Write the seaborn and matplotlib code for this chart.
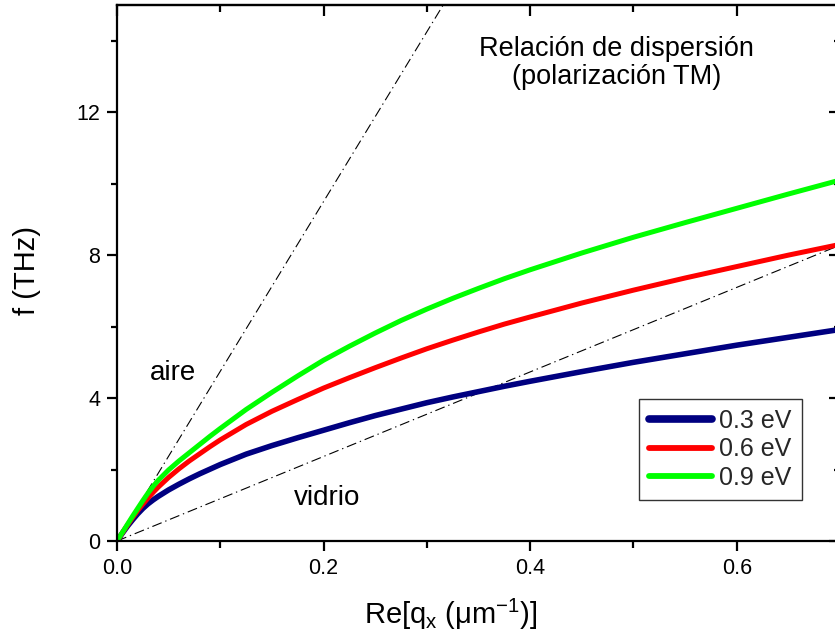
import matplotlib
matplotlib.use("Agg")
import matplotlib.pyplot as plt
import seaborn as sns
import pandas as pd
from matplotlib.ticker import MultipleLocator

# ---- data ----
q = [0.0, 0.005, 0.01, 0.015, 0.02, 0.025, 0.03, 0.035, 0.04, 0.05, 0.06,
     0.07, 0.08, 0.09, 0.1, 0.125, 0.15, 0.175, 0.2, 0.225, 0.25, 0.275,
     0.3, 0.325, 0.35, 0.375, 0.4, 0.45, 0.5, 0.55, 0.6, 0.65, 0.7]
f_03 = [0.0, 0.21, 0.41, 0.59, 0.76, 0.91, 1.04, 1.15, 1.25, 1.43, 1.59,
        1.74, 1.88, 2.01, 2.14, 2.43, 2.67, 2.89, 3.1, 3.31, 3.51, 3.69,
        3.87, 4.03, 4.18, 4.33, 4.47, 4.74, 5.0, 5.24, 5.48, 5.7, 5.92]
f_06 = [0.0, 0.22, 0.44, 0.65, 0.85, 1.03, 1.2, 1.36, 1.51, 1.78, 2.02,
        2.24, 2.44, 2.64, 2.83, 3.26, 3.63, 3.96, 4.28, 4.57, 4.85, 5.12,
        5.38, 5.62, 5.85, 6.07, 6.27, 6.66, 7.02, 7.36, 7.68, 8.0, 8.3]
f_09 = [0.0, 0.23, 0.46, 0.69, 0.91, 1.13, 1.34, 1.53, 1.7, 1.99, 2.24,
        2.47, 2.7, 2.93, 3.15, 3.68, 4.16, 4.62, 5.06, 5.45, 5.82, 6.17,
        6.49, 6.79, 7.07, 7.34, 7.59, 8.06, 8.5, 8.91, 9.31, 9.71, 10.1]
series_labels = ["0.3 eV", "0.6 eV", "0.9 eV"]
series_colors = ["#000080", "#FF0000", "#00FF00"]
series_widths = [4.0, 3.6, 3.6]

aire_q = [0.0, 0.32]
aire_f = [0.0, 15.2]
vidrio_q = [0.0, 0.7]
vidrio_f = [0.0, 8.28]

x_ticks = [0.0, 0.2, 0.4, 0.6]
y_ticks = [0, 4, 8, 12]

# ---- style ----
sns.set_theme(style="ticks")
plt.rcParams["font.family"] = ["Liberation Sans", "DejaVu Sans"]
plt.rcParams["mathtext.default"] = "regular"

fig = plt.figure(figsize=(8.35, 6.38), dpi=100)
ax = fig.add_axes([117 / 835, 97 / 638, 723 / 835, 536 / 638])

# light lines
dash = (0, (9, 3.5, 1.2, 3.5))
sns.lineplot(x=aire_q, y=aire_f, ax=ax, color="black", lw=0.8,
             linestyle=dash, legend=False)
sns.lineplot(x=vidrio_q, y=vidrio_f, ax=ax, color="black", lw=0.8,
             linestyle=dash, legend=False)

# dispersion curves
for fvals, lab, col, lw in zip([f_03, f_06, f_09], series_labels,
                               series_colors, series_widths):
    df = pd.DataFrame({"q": q, "f": fvals})
    sns.lineplot(data=df, x="q", y="f", ax=ax, color=col, lw=lw,
                 label=lab, estimator=None, sort=False,
                 solid_capstyle="round", solid_joinstyle="round")

ax.set_xlim(0, 0.7)
ax.set_ylim(0, 15)

ax.xaxis.set_major_locator(MultipleLocator(0.2))
ax.xaxis.set_minor_locator(MultipleLocator(0.1))
ax.yaxis.set_major_locator(MultipleLocator(4))
ax.yaxis.set_minor_locator(MultipleLocator(2))
ax.set_xticks(x_ticks)
ax.set_xticklabels([f"{v:.1f}" for v in x_ticks])
ax.set_yticks(y_ticks)
ax.set_yticklabels([str(v) for v in y_ticks])

for s in ax.spines.values():
    s.set_visible(True)
    s.set_linewidth(1.6)
    s.set_color("black")

ax.tick_params(which="both", direction="out", width=1.6, color="black",
               labelsize=15.5, labelcolor="black", top=False, right=False,
               bottom=True, left=True)
ax.tick_params(axis="x", which="major", length=7.5, pad=5)
ax.tick_params(axis="x", which="minor", length=5)
ax.tick_params(axis="y", which="major", length=7, pad=5)
ax.tick_params(axis="y", which="minor", length=4)

# top and right axes with inward ticks, no labels
sec_x = ax.secondary_xaxis("top")
sec_x.xaxis.set_major_locator(MultipleLocator(0.2))
sec_x.xaxis.set_minor_locator(MultipleLocator(0.1))
sec_x.tick_params(which="both", direction="in", width=1.6, color="black",
                  labeltop=False)
sec_x.tick_params(which="major", length=8)
sec_x.tick_params(which="minor", length=5)
sec_x.spines["top"].set_linewidth(1.6)

sec_y = ax.secondary_yaxis("right")
sec_y.yaxis.set_major_locator(MultipleLocator(4))
sec_y.yaxis.set_minor_locator(MultipleLocator(2))
sec_y.tick_params(which="both", direction="in", width=1.6, color="black",
                  labelright=False)
sec_y.tick_params(which="major", length=8)
sec_y.tick_params(which="minor", length=4)
sec_y.spines["right"].set_linewidth(1.6)

ax.set_xlabel("Re[q$_{x}$ (μm$^{-1}$)]", fontsize=21, color="black")
ax.set_ylabel("f (THz)", fontsize=21, color="black")
ax.xaxis.set_label_coords(0.462, -0.105)
ax.yaxis.set_label_coords(-0.105, 0.505)

ax.text(0.4835, 13.37, "Relación de dispersión\n(polarización TM)",
        ha="center", va="center", fontsize=19.5, color="black",
        multialignment="center", linespacing=1.1)
ax.text(0.0542, 4.5, "aire", ha="center", va="baseline", fontsize=20,
        color="black")
ax.text(0.2038, 1.0, "vidrio", ha="center", va="baseline", fontsize=20,
        color="black")

leg = ax.legend(loc="upper right", bbox_to_anchor=(0.947, 0.265),
                borderaxespad=0, fontsize=18, frameon=True, fancybox=False,
                framealpha=1, edgecolor="#333333", handlelength=2.5,
                handletextpad=0.3, labelspacing=0.18, borderpad=0.4)
leg.get_frame().set_linewidth(1.0)
for i, line in enumerate(leg.get_lines()):
    line.set_solid_capstyle("round")
    line.set_linewidth(5.5 if i == 0 else 4.2)

fig.savefig("out.png", dpi=100)
